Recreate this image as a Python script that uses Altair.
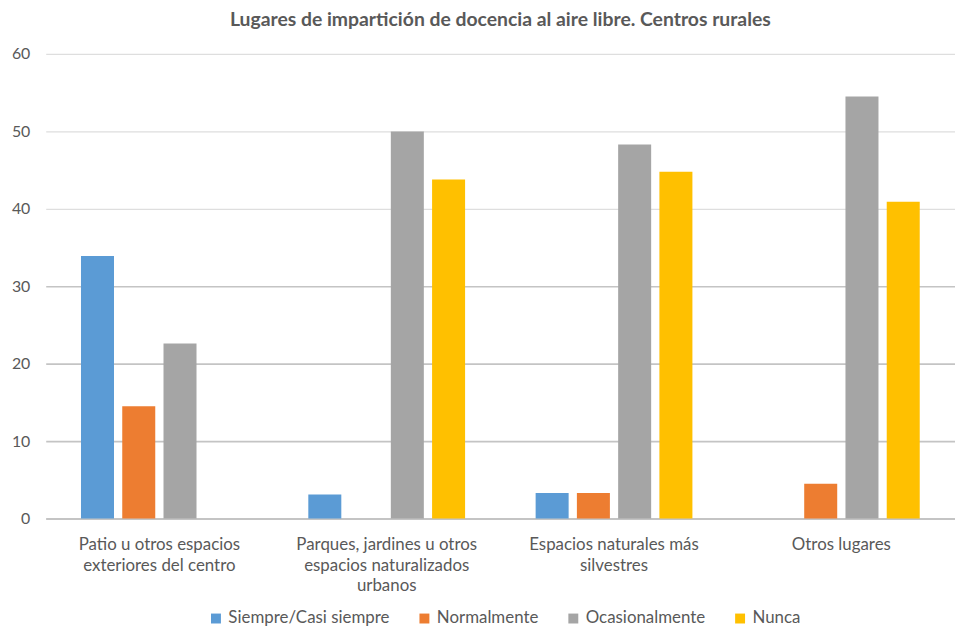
import altair as alt
import pandas as pd

categories = [
    "Patio u otros espacios exteriores del centro",
    "Parques, jardines u otros espacios naturalizados urbanos",
    "Espacios naturales más silvestres",
    "Otros lugares",
]
category_lines = [
    ["Patio u otros espacios", "exteriores del centro"],
    ["Parques, jardines u otros", "espacios naturalizados", "urbanos"],
    ["Espacios naturales más", "silvestres"],
    ["Otros lugares"],
]
series = ["Siempre/Casi siempre", "Normalmente", "Ocasionalmente", "Nunca"]
colors = ["#5B9BD5", "#ED7D31", "#A5A5A5", "#FFC000"]

siempre = [33.9, 3.1, 3.3, 0.0]
normalmente = [14.5, 0.0, 3.3, 4.5]
ocasionalmente = [22.6, 50.0, 48.3, 54.5]
nunca = [0.0, 43.8, 44.8, 40.9]

values = [siempre, normalmente, ocasionalmente, nunca]
rows = []
for s, vals in zip(series, values):
    for c, v in zip(categories, vals):
        rows.append({"categoria": c, "serie": s, "valor": v})
df = pd.DataFrame(rows)

label_expr = ""
for c, lines in zip(categories, category_lines):
    arr = "[" + ", ".join("'" + l + "'" for l in lines) + "]"
    label_expr += f"datum.value == '{c}' ? {arr} : "
label_expr += "datum.label"

FONT = "Lato"
TXT = "#595959"

chart = (
    alt.Chart(df)
    .mark_bar()
    .encode(
        x=alt.X(
            "categoria:N",
            sort=categories,
            title=None,
            scale=alt.Scale(paddingInner=0.274, paddingOuter=0.137),
            axis=alt.Axis(
                labelAngle=0,
                labelExpr=label_expr,
                labelFontSize=17,
                labelColor=TXT,
                labelFont=FONT,
                labelLineHeight=21,
                labelPadding=18,
                labelLimit=300,
                ticks=False,
                domainColor="#bfbfbf",
                domainWidth=1.5,
            ),
        ),
        xOffset=alt.XOffset(
            "serie:N",
            sort=series,
            scale=alt.Scale(paddingInner=0.2, paddingOuter=0.1),
        ),
        y=alt.Y(
            "valor:Q",
            title=None,
            scale=alt.Scale(domain=[0, 60], nice=False),
            axis=alt.Axis(
                values=[0, 10, 20, 30, 40, 50, 60],
                labelFontSize=16,
                labelColor=TXT,
                labelFont=FONT,
                labelPadding=16,
                ticks=False,
                domain=False,
                gridColor=alt.condition("datum.value <= 30", alt.value("#c4c4c4"), alt.value("#dedede")),
                gridWidth=alt.condition("datum.value <= 30", alt.value(1.6), alt.value(1.2)),
            ),
        ),
        color=alt.Color(
            "serie:N",
            sort=series,
            scale=alt.Scale(domain=series, range=colors),
            legend=alt.Legend(
                title=None,
                orient="none",
                legendX=163,
                legendY=560,
                direction="horizontal",
                columns=4,
                symbolType="square",
                symbolSize=100,
                symbolStrokeWidth=0,
                labelFontSize=17,
                labelColor=TXT,
                labelFont=FONT,
                labelOffset=4,
                labelLimit=300,
                columnPadding=26,
            ),
        ),
    )
    .properties(
        width=916,
        height=468,
        padding={"left": 38, "top": 44, "right": 0, "bottom": 107},
        autosize=alt.AutoSizeParams(type="none"),
        title=alt.TitleParams(
            "Lugares de impartición de docencia al aire libre. Centros rurales",
            font=FONT,
            fontSize=19.5,
            fontWeight="bold",
            color=TXT,
            anchor="middle",
            offset=16,
        ),
    )
    .configure_view(stroke=None)
)

chart.save("out.html", embed_options={"renderer": "svg", "actions": False})
